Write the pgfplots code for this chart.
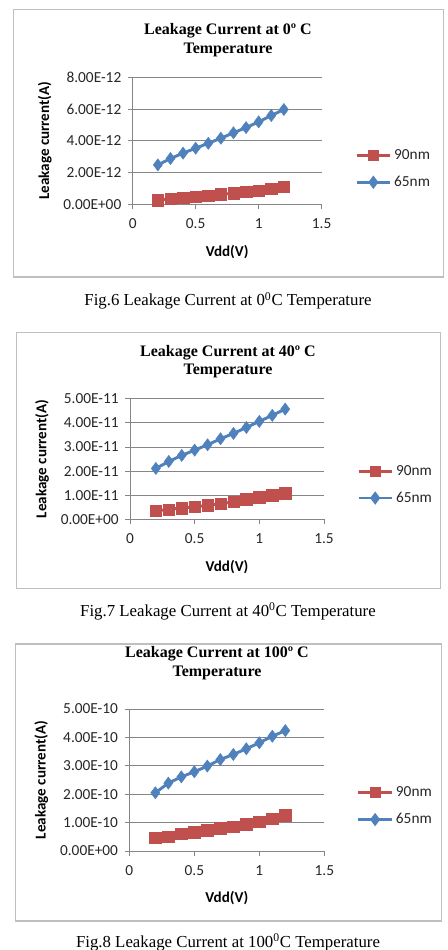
\documentclass[border=0pt]{standalone}
\usepackage{fontspec}
\setmainfont{Liberation Serif}
\newfontfamily\calibri{Carlito}
\usepackage{pgfplots}
\pgfplotsset{compat=1.18}
\definecolor{exred}{HTML}{C0504D}
\definecolor{exblue}{HTML}{4F81BD}
\definecolor{gridgray}{HTML}{868686}
\definecolor{framegray}{HTML}{BFBFBF}
\pgfplotsset{leak/.style={
  scale only axis,
  xmin=0, xmax=1.5, xtick={0,0.5,1,1.5},
  ymin=0,
  axis x line*=bottom, axis y line*=left,
  axis line style={gridgray, line width=0.6pt},
  ymajorgrids, major grid style={gridgray, line width=0.6pt},
  tick align=outside, major tick length=3.5pt,
  tick style={gridgray, line width=0.6pt},
  xtick pos=bottom, ytick pos=left,
  scaled y ticks=false,
  /pgf/number format/assume math mode=true,
  tick label style={font=\calibri\fontsize{11.5}{13}\selectfont, text=black!85},
  yticklabel style={xshift=-1.5pt},
  xticklabel style={yshift=-4pt},
  xlabel={Vdd(V)}, ylabel={Leakage current(A)},
  label style={font=\calibri\bfseries\fontsize{11.3}{13}\selectfont},
  xlabel style={yshift=-5pt},
  ylabel style={yshift=2pt},
  legend style={draw=none, fill=none, anchor=west, font=\calibri\fontsize{11.5}{13}\selectfont, text=black!85, row sep=7pt, inner sep=0pt},
  legend cell align=left,
  legend image code/.code={\draw[mark repeat=2,mark phase=2, mark options={scale=0.7}] plot coordinates {(0cm,0cm)(0.44cm,0cm)(0.88cm,0cm)};},
  clip=false,
},
s90/.style={exred, line width=2.2pt, mark=square*, mark size=4.3pt, mark options={solid, fill=exred, draw=exred, line width=0.3pt}},
s65/.style={exblue, line width=2.2pt, mark=diamond*, mark size=4.6pt, mark options={solid, fill=exblue, draw=exblue, line width=0.3pt}},
}
\begin{document}
\begin{tikzpicture}
\useasboundingbox (0,0) rectangle (336pt,712.5pt);
% frames
\draw[framegray, line width=0.8pt] (10pt,504.75pt) rectangle (332.5pt,705.5pt);
\draw[framegray, line width=0.8pt] (12.5pt,271pt) rectangle (330.5pt,463pt);
\draw[framegray, line width=0.8pt] (11.75pt,21.75pt) rectangle (331.25pt,229.5pt);
% titles
\node[align=center, font=\bfseries\fontsize{12}{14}\selectfont] at (171pt,682.5pt) {Leakage Current at 0º C\\Temperature};
\node[align=center, font=\bfseries\fontsize{12}{14}\selectfont] at (171pt,441.2pt) {Leakage Current at 40º C\\Temperature};
\node[align=center, font=\bfseries\fontsize{12}{14}\selectfont] at (162.75pt,215pt) {Leakage Current at 100º C\\Temperature};
% captions
\node[font=\fontsize{12.6}{14}\selectfont] at (171pt,486.75pt) {Fig.6 Leakage Current at 0\textsuperscript{0}C Temperature};
\node[font=\fontsize{12.6}{14}\selectfont] at (171pt,253.7pt) {Fig.7 Leakage Current at 40\textsuperscript{0}C Temperature};
\node[font=\fontsize{12.6}{14}\selectfont] at (171pt,6pt) {Fig.8 Leakage Current at 100\textsuperscript{0}C Temperature};

% chart 1
\begin{axis}[leak, at={(99.5pt,559.3pt)}, anchor=south west, width=141.75pt, height=95.25pt,
  ymax=8e-12, ytick={0,2e-12,4e-12,6e-12,8e-12},
  yticklabels={0.00E+00,2.00E-12,4.00E-12,6.00E-12,8.00E-12},
  legend style={at={(axis description cs:1.176,0.278)}}]
\addplot[s90] coordinates {(0.2,0.27e-12)(0.3,0.34e-12)(0.4,0.42e-12)(0.5,0.48e-12)(0.6,0.55e-12)(0.7,0.63e-12)(0.8,0.69e-12)(0.9,0.78e-12)(1.0,0.84e-12)(1.1,0.99e-12)(1.2,1.11e-12)};
\addlegendentry{90nm}
\addplot[s65] coordinates {(0.2,2.48e-12)(0.3,2.88e-12)(0.4,3.22e-12)(0.5,3.53e-12)(0.6,3.84e-12)(0.7,4.16e-12)(0.8,4.5e-12)(0.9,4.83e-12)(1.0,5.19e-12)(1.1,5.59e-12)(1.2,5.97e-12)};
\addlegendentry{65nm}
\end{axis}

% chart 2
\begin{axis}[leak, at={(97.5pt,323pt)}, anchor=south west, width=145.5pt, height=90.45pt,
  ymax=5e-11, ytick={0,1e-11,2e-11,3e-11,4e-11,5e-11},
  yticklabels={0.00E+00,1.00E-11,2.00E-11,3.00E-11,4.00E-11,5.00E-11},
  legend style={at={(axis description cs:1.169,0.287)}}]
\addplot[s90] coordinates {(0.2,0.35e-11)(0.3,0.41e-11)(0.4,0.47e-11)(0.5,0.52e-11)(0.6,0.58e-11)(0.7,0.65e-11)(0.8,0.72e-11)(0.9,0.83e-11)(1.0,0.91e-11)(1.1,1.01e-11)(1.2,1.08e-11)};
\addlegendentry{90nm}
\addplot[s65] coordinates {(0.2,2.11e-11)(0.3,2.40e-11)(0.4,2.65e-11)(0.5,2.87e-11)(0.6,3.09e-11)(0.7,3.34e-11)(0.8,3.56e-11)(0.9,3.81e-11)(1.0,4.06e-11)(1.1,4.31e-11)(1.2,4.57e-11)};
\addlegendentry{65nm}
\end{axis}

% chart 3
\begin{axis}[leak, at={(97pt,74.25pt)}, anchor=south west, width=146.25pt, height=106.5pt,
  ymax=5e-10, ytick={0,1e-10,2e-10,3e-10,4e-10,5e-10},
  yticklabels={0.00E+00,1.00E-10,2.00E-10,3.00E-10,4.00E-10,5.00E-10},
  legend style={at={(axis description cs:1.166,0.315)}}]
\addplot[s90] coordinates {(0.2,0.47e-10)(0.3,0.50e-10)(0.4,0.60e-10)(0.5,0.66e-10)(0.6,0.73e-10)(0.7,0.80e-10)(0.8,0.86e-10)(0.9,0.95e-10)(1.0,1.03e-10)(1.1,1.13e-10)(1.2,1.26e-10)};
\addlegendentry{90nm}
\addplot[s65] coordinates {(0.2,2.05e-10)(0.3,2.39e-10)(0.4,2.61e-10)(0.5,2.79e-10)(0.6,2.99e-10)(0.7,3.22e-10)(0.8,3.40e-10)(0.9,3.60e-10)(1.0,3.81e-10)(1.1,4.04e-10)(1.2,4.24e-10)};
\addlegendentry{65nm}
\end{axis}
\end{tikzpicture}
\end{document}
